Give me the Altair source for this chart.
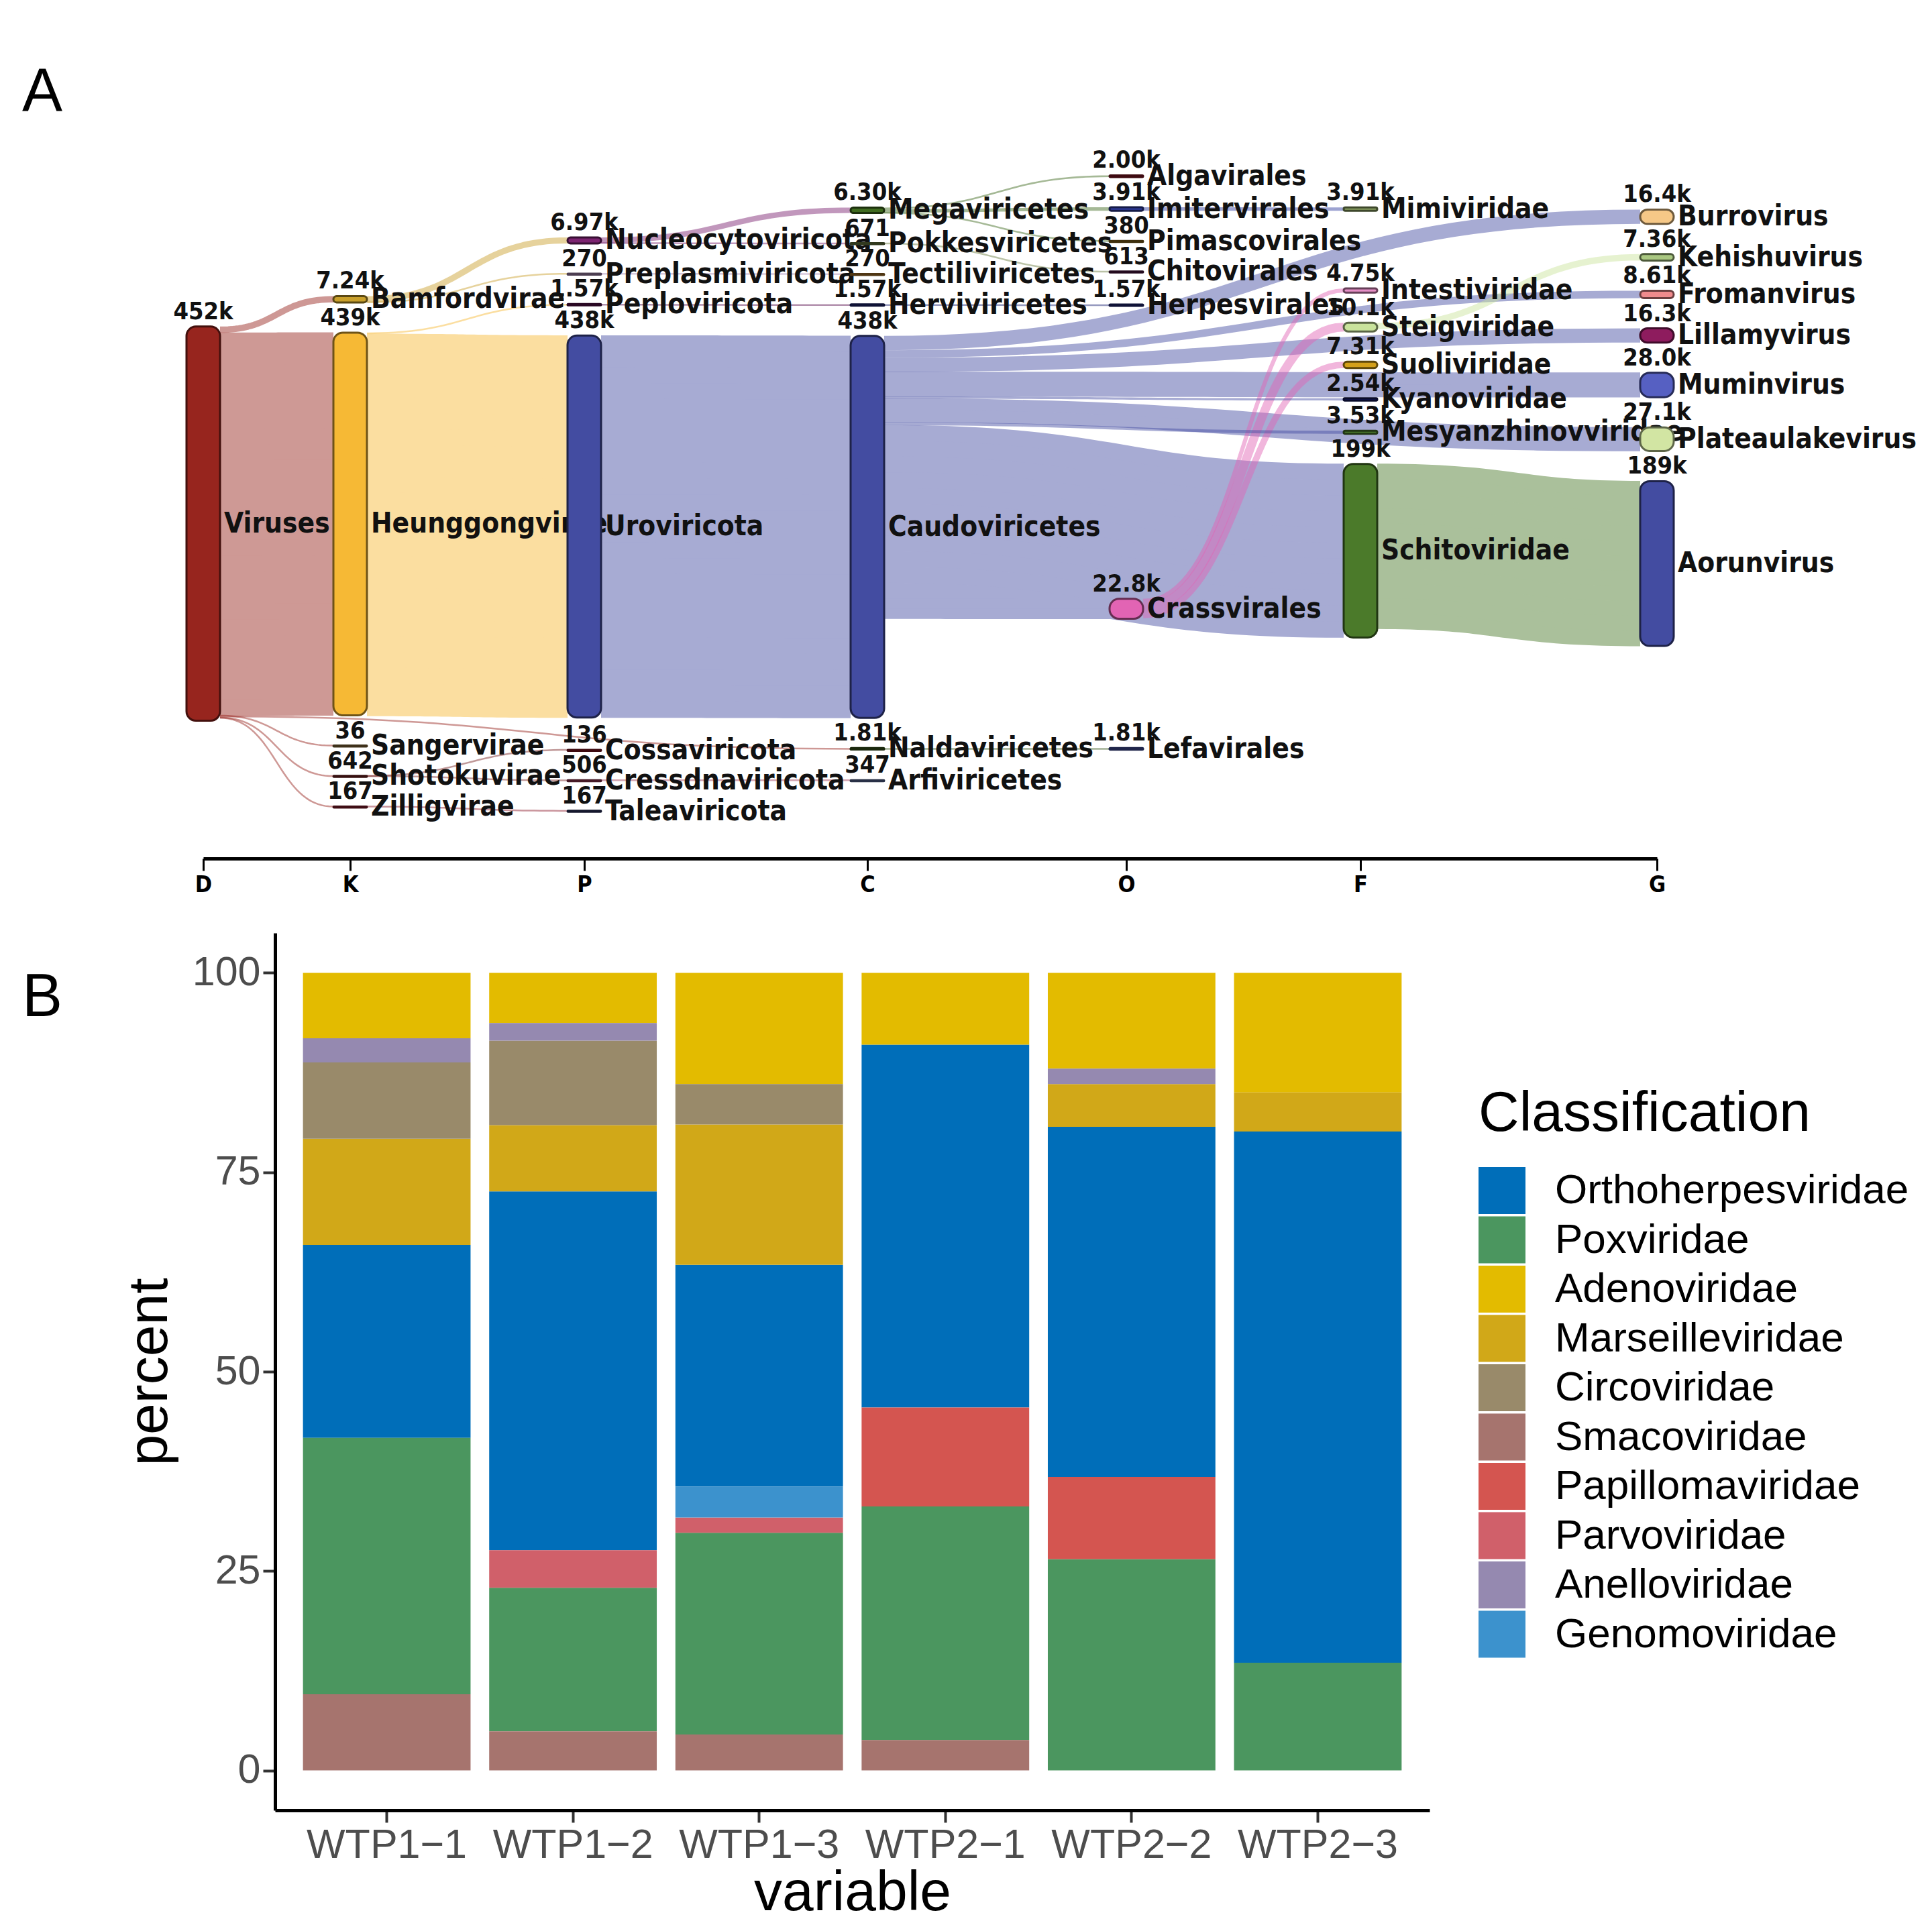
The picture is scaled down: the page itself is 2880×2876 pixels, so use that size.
import altair as alt
import numpy as np
import pandas as pd

# =====================  PANEL A DATA : taxonomic Sankey  =====================
RANKS = ["D", "K", "P", "C", "O", "F", "G"]

D_NAMES = ["Viruses"]
D_READS = [452000]
K_NAMES = ["Bamfordvirae", "Heunggongvirae", "Sangervirae", "Shotokuvirae", "Zilligvirae"]
K_READS = [7240, 439000, 36, 642, 167]
P_NAMES = ["Nucleocytoviricota", "Preplasmiviricota", "Peploviricota", "Uroviricota",
           "Cossaviricota", "Cressdnaviricota", "Taleaviricota"]
P_READS = [6970, 270, 1570, 438000, 136, 506, 167]
C_NAMES = ["Megaviricetes", "Pokkesviricetes", "Tectiliviricetes", "Herviviricetes",
           "Caudoviricetes", "Naldaviricetes", "Arfiviricetes"]
C_READS = [6300, 671, 270, 1570, 438000, 1810, 347]
O_NAMES = ["Algavirales", "Imitervirales", "Pimascovirales", "Chitovirales",
           "Herpesvirales", "Crassvirales", "Lefavirales"]
O_READS = [2000, 3910, 380, 613, 1570, 22800, 1810]
F_NAMES = ["Mimiviridae", "Intestiviridae", "Steigviridae", "Suoliviridae",
           "Kyanoviridae", "Mesyanzhinovviridae", "Schitoviridae"]
F_READS = [3910, 4750, 10100, 7310, 2540, 3530, 199000]
G_NAMES = ["Burrovirus", "Kehishuvirus", "Fromanvirus", "Lillamyvirus",
           "Muminvirus", "Plateaulakevirus", "Aorunvirus"]
G_READS = [16400, 7360, 8610, 16300, 28000, 27100, 189000]

LINK_SOURCE = ["Viruses", "Viruses", "Viruses", "Viruses", "Viruses", "Viruses",
               "Bamfordvirae", "Bamfordvirae", "Heunggongvirae", "Heunggongvirae",
               "Shotokuvirae", "Shotokuvirae", "Zilligvirae",
               "Nucleocytoviricota", "Nucleocytoviricota", "Preplasmiviricota", "Peploviricota",
               "Uroviricota", "Cressdnaviricota",
               "Megaviricetes", "Megaviricetes", "Megaviricetes", "Pokkesviricetes",
               "Herviviricetes", "Caudoviricetes", "Naldaviricetes", "Imitervirales",
               "Caudoviricetes", "Caudoviricetes", "Caudoviricetes", "Caudoviricetes",
               "Caudoviricetes", "Caudoviricetes", "Caudoviricetes", "Caudoviricetes",
               "Crassvirales", "Crassvirales", "Crassvirales", "Steigviridae", "Schitoviridae"]
LINK_TARGET = ["Bamfordvirae", "Heunggongvirae", "Naldaviricetes", "Sangervirae", "Shotokuvirae", "Zilligvirae",
               "Nucleocytoviricota", "Preplasmiviricota", "Peploviricota", "Uroviricota",
               "Cossaviricota", "Cressdnaviricota", "Taleaviricota",
               "Megaviricetes", "Pokkesviricetes", "Tectiliviricetes", "Herviviricetes",
               "Caudoviricetes", "Arfiviricetes",
               "Algavirales", "Imitervirales", "Pimascovirales", "Chitovirales",
               "Herpesvirales", "Crassvirales", "Lefavirales", "Mimiviridae",
               "Burrovirus", "Fromanvirus", "Lillamyvirus", "Muminvirus",
               "Plateaulakevirus", "Kyanoviridae", "Mesyanzhinovviridae", "Schitoviridae",
               "Intestiviridae", "Steigviridae", "Suoliviridae", "Kehishuvirus", "Aorunvirus"]
LINK_READS = [7240, 439000, 1810, 36, 642, 167,
              6970, 270, 1570, 438000,
              136, 506, 167,
              6300, 671, 270, 1570,
              438000, 347,
              2000, 3910, 380, 613,
              1570, 22800, 1810, 3910,
              16400, 8610, 16300, 28000,
              27100, 2540, 3530, 199000,
              4750, 10100, 7310, 7360, 189000]

# =====================  PANEL B DATA : stacked percentages  =====================
SAMPLES = ["WTP1\u22121", "WTP1\u22122", "WTP1\u22123", "WTP2\u22121", "WTP2\u22122", "WTP2\u22123"]
FAMILIES = ["Orthoherpesviridae", "Poxviridae", "Adenoviridae", "Marseilleviridae", "Circoviridae",
            "Smacoviridae", "Papillomaviridae", "Parvoviridae", "Anelloviridae", "Genomoviridae"]
WTP1_1 = [24.2, 32.15, 8.2, 13.3, 9.56, 9.55, 0, 0, 3.04, 0]
WTP1_2 = [45.0, 18.0, 6.3, 8.3, 10.6, 4.9, 0, 4.7, 2.2, 0]
WTP1_3 = [27.8, 25.3, 13.95, 17.6, 5.05, 4.5, 0, 1.9, 0, 3.9]
WTP2_1 = [45.5, 29.3, 9.0, 0, 0, 3.8, 12.4, 0, 0, 0]
WTP2_2 = [43.9, 26.5, 12.0, 5.35, 0, 0, 10.3, 0, 1.95, 0]
WTP2_3 = [66.6, 13.5, 15.0, 4.9, 0, 0, 0, 0, 0, 0]
STACK_ORDER = ["Smacoviridae", "Poxviridae", "Papillomaviridae", "Parvoviridae", "Genomoviridae",
               "Orthoherpesviridae", "Marseilleviridae", "Circoviridae", "Anelloviridae", "Adenoviridae"]

# =====================  STYLES  =====================
NODE_COLOR = {
    "Viruses": "#97251E", "Bamfordvirae": "#C9A02C", "Heunggongvirae": "#F6B935",
    "Sangervirae": "#8A6F3A", "Shotokuvirae": "#7A2424", "Zilligvirae": "#8E1E2E",
    "Nucleocytoviricota": "#7C2370", "Preplasmiviricota": "#A98BB5", "Peploviricota": "#5E1652",
    "Uroviricota": "#434CA1", "Cossaviricota": "#8A1724", "Cressdnaviricota": "#9E3A55",
    "Taleaviricota": "#2E3566", "Megaviricetes": "#3F6B1F", "Pokkesviricetes": "#6F7F44",
    "Tectiliviricetes": "#B07A2C", "Herviviricetes": "#232A78", "Caudoviricetes": "#434CA1",
    "Naldaviricetes": "#3A5A1E", "Arfiviricetes": "#5C6C9C", "Algavirales": "#8A1726",
    "Imitervirales": "#2F3C9E", "Pimascovirales": "#8A6A1E", "Chitovirales": "#4E1744",
    "Herpesvirales": "#222A78", "Crassvirales": "#E264B4", "Lefavirales": "#4754A6",
    "Mimiviridae": "#8BA062", "Intestiviridae": "#E58FC6", "Steigviridae": "#C9E39C",
    "Suoliviridae": "#D4A01A", "Kyanoviridae": "#141A5E", "Mesyanzhinovviridae": "#4B7A2E",
    "Schitoviridae": "#4B7A2A", "Burrovirus": "#F6C887", "Kehishuvirus": "#A9C781",
    "Fromanvirus": "#F08A8C", "Lillamyvirus": "#8E1C5E", "Muminvirus": "#5660C2",
    "Plateaulakevirus": "#D2E5A3", "Aorunvirus": "#434CA1",
}
FAM_COLORS = ["#006EB9", "#4B965F", "#E3BB00", "#D1A818", "#998A6A",
              "#A6746E", "#D45550", "#D0606A", "#9589B0", "#3C92CD"]
COND = "DejaVu Sans Condensed, DejaVu Sans, sans-serif"
SANS = "Liberation Sans, Arial, Helvetica, sans-serif"
LINK_ALPHA = 0.47

# layout constants (pixels)
COL_X = [303, 522, 871, 1293, 1679, 2028, 2470]   # centre of each rank column
PLOT_X0 = 410                                      # left edge shared by both panels
NODE_W = 50
PX_PER_READ = 1.30e-3
NODE_PAD = 45
WEIGHT_FLOOR = 2000
N_ITER = 25
Y_TOP, Y_BOTTOM = 57, 1209
PANEL_TOP, AXIS_Y = 20, 1280
PANEL_W = 1721
MAX_SUB = 24        # widest single stroke used to paint a ribbon


def darker(hexcol, k=0.45):
    r, g, b = (int(hexcol[i:i + 2], 16) for i in (1, 3, 5))
    return "#%02x%02x%02x" % (int(r * k), int(g * k), int(b * k))


def on_white(hexcol, a):
    r, g, b = (int(hexcol[i:i + 2], 16) for i in (1, 3, 5))
    return "#%02x%02x%02x" % tuple(int(round(c * a + 255 * (1 - a))) for c in (r, g, b))


def fmt_reads(c):
    if c < 1000:
        return str(int(c))
    v = c / 1000.0
    if v >= 100:
        return "%.0fk" % v
    if v >= 10:
        return "%.1fk" % v
    return "%.2fk" % v


# =====================  SANKEY LAYOUT  =====================
COLUMN_NAMES = [D_NAMES, K_NAMES, P_NAMES, C_NAMES, O_NAMES, F_NAMES, G_NAMES]
COLUMN_READS = [D_READS, K_READS, P_READS, C_READS, O_READS, F_READS, G_READS]

nodes, cols = {}, []
for ci, (names, reads) in enumerate(zip(COLUMN_NAMES, COLUMN_READS)):
    col = []
    for n, r in zip(names, reads):
        nd = {"name": n, "col": ci, "reads": r, "h": r * PX_PER_READ, "src": [], "tgt": []}
        nodes[n] = nd
        col.append(nd)
    cols.append(col)

links = []
for s, t, r in zip(LINK_SOURCE, LINK_TARGET, LINK_READS):
    L = {"s": nodes[s], "t": nodes[t], "reads": r, "w": r * PX_PER_READ}
    nodes[s]["src"].append(L)
    nodes[t]["tgt"].append(L)
    links.append(L)

for col in cols:
    y = Y_BOTTOM
    for nd in reversed(col):
        nd["y0"] = y - nd["h"]
        y = nd["y0"] - NODE_PAD


def order_links():
    for nd in nodes.values():
        nd["src"].sort(key=lambda L: L["t"]["y0"])
        off = 0.0
        for L in nd["src"]:
            L["sy"] = off
            off += L["w"]
        nd["tgt"].sort(key=lambda L: L["s"]["y0"])
        off = 0.0
        for L in nd["tgt"]:
            L["ty"] = off
            off += L["w"]


def pava(vals, wts):
    blocks = []
    for v, w in zip(vals, wts):
        blocks.append([v, w, 1])
        while len(blocks) > 1 and blocks[-2][0] > blocks[-1][0]:
            m2, w2, c2 = blocks.pop()
            m1, w1, c1 = blocks.pop()
            blocks.append([(m1 * w1 + m2 * w2) / (w1 + w2), w1 + w2, c1 + c2])
    out = []
    for m, _, c in blocks:
        out += [m] * c
    return out


def place(col, desired):
    offs, o = [], 0.0
    for nd in col:
        offs.append(o)
        o += nd["h"] + NODE_PAD
    z = pava([d - off for d, off in zip(desired, offs)], [nd["reads"] + WEIGHT_FLOOR for nd in col])
    hi = Y_BOTTOM - (offs[-1] + col[-1]["h"])
    for nd, zi, off in zip(col, z, offs):
        nd["y0"] = min(max(zi, Y_TOP), hi) + off


for it in range(N_ITER):
    for col in cols:
        order_links()
        desired = []
        for nd in col:
            if nd["tgt"]:       # follow parents: make incoming links level
                num = sum((L["s"]["y0"] + L["sy"] - L["ty"]) * L["reads"] for L in nd["tgt"])
                den = sum(L["reads"] for L in nd["tgt"])
            elif nd["src"]:     # root: follow its dominant children
                num = sum((L["t"]["y0"] + L["ty"] - L["sy"]) * L["reads"] ** 2 for L in nd["src"])
                den = sum(L["reads"] ** 2 for L in nd["src"])
            else:
                num, den = nd["y0"], 1.0
            desired.append(nd["y0"] + 0.8 * (num / den - nd["y0"]))
        place(col, desired)
order_links()

# link ribbons: cubic bezier centre line (curvature 0.5); wide ribbons are painted
# with several adjacent strokes offset along the normal
T = np.linspace(0.0, 1.0, 41)
rows = []
order_by_width = sorted(range(len(links)), key=lambda k: -links[k]["w"])
sid = 0
for k in order_by_width:
    L = links[k]
    s, t = L["s"], L["t"]
    x0 = COL_X[s["col"]] + NODE_W / 2
    x1 = COL_X[t["col"]] - NODE_W / 2
    ya = s["y0"] + L["sy"] + L["w"] / 2
    yb = t["y0"] + L["ty"] + L["w"] / 2
    span = x1 - x0
    xm = x0 + span / 2
    bx = (1 - T) ** 3 * x0 + 3 * (1 - T) ** 2 * T * xm + 3 * (1 - T) * T ** 2 * xm + T ** 3 * x1
    by = ya + (yb - ya) * (3 * T ** 2 - 2 * T ** 3)
    dxdt = 1.5 * span * ((1 - T) ** 2 + T ** 2)
    dydt = (yb - ya) * 6 * T * (1 - T)
    nrm = np.sqrt(dxdt ** 2 + dydt ** 2)
    nx, ny = -dydt / nrm, dxdt / nrm
    wdraw = max(L["w"], 2.5)
    nsub = int(np.ceil(wdraw / MAX_SUB))
    sub = wdraw / nsub
    base = NODE_COLOR[s["name"]]
    colr = on_white(base, LINK_ALPHA) if nsub > 1 else base
    op = 1.0 if nsub > 1 else LINK_ALPHA
    for j in range(nsub):
        d = -wdraw / 2 + (j + 0.5) * sub
        for i in range(len(T)):
            rows.append({"sid": sid, "i": i, "x": bx[i] + d * nx[i], "y": by[i] + d * ny[i],
                         "sw": sub + (0.9 if nsub > 1 else 0.0), "col": colr, "op": op})
        sid += 1
link_df = pd.DataFrame(rows)

nrows = []
for nd in nodes.values():
    cx = COL_X[nd["col"]]
    h = max(nd["h"], 1.5)
    nrows.append({"name": nd["name"], "x0": cx - NODE_W / 2, "x1": cx + NODE_W / 2,
                  "y0": nd["y0"], "y1": nd["y0"] + h, "cx": cx, "lx": cx + NODE_W / 2 + 6,
                  "yc": nd["y0"] + h / 2, "vy": nd["y0"] - 3, "val": fmt_reads(nd["reads"]),
                  "fill": NODE_COLOR[nd["name"]], "stroke": darker(NODE_COLOR[nd["name"]])})
node_df = pd.DataFrame(nrows)

XS = alt.Scale(domain=[COL_X[0], COL_X[-1]],
               range=[COL_X[0] - PLOT_X0, COL_X[-1] - PLOT_X0], nice=False, zero=False)
YS = alt.Scale(domain=[PANEL_TOP, AXIS_Y], reverse=True, nice=False, zero=False)
label_expr = " : ".join("datum.value == %d ? '%s'" % (x, r) for x, r in zip(COL_X, RANKS)) + " : ''"
AXA = alt.Axis(values=COL_X, labelExpr=label_expr, title=None, grid=False, domainColor="black",
               domainWidth=5, tickColor="black", tickWidth=3, tickSize=18, labelFont=COND,
               labelFontWeight="bold", labelFontSize=34, labelColor="black", labelPadding=4,
               labelFlush=False, labelOverlap=False)

link_layer = alt.Chart(link_df).mark_line(strokeCap="butt", strokeJoin="round").encode(
    x=alt.X("x:Q", scale=XS, axis=AXA),
    y=alt.Y("y:Q", scale=YS, axis=None),
    detail="sid:N",
    order="i:Q",
    strokeWidth=alt.StrokeWidth("sw:Q", scale=None),
    strokeOpacity=alt.StrokeOpacity("op:Q", scale=None),
    color=alt.Color("col:N", scale=None),
)
val_layer = alt.Chart(node_df).mark_text(align="center", baseline="bottom", font=COND,
                                         fontWeight="bold", fontSize=36, color="#111111").encode(
    x=alt.X("cx:Q", scale=XS, axis=AXA), y=alt.Y("vy:Q", scale=YS, axis=None), text="val:N")
name_layer = alt.Chart(node_df).mark_text(align="left", baseline="middle", font=COND,
                                          fontWeight="bold", fontSize=42, color="#111111").encode(
    x=alt.X("lx:Q", scale=XS, axis=AXA), y=alt.Y("yc:Q", scale=YS, axis=None), text="name:N")
node_layer = alt.Chart(node_df).mark_rect(cornerRadius=14, strokeWidth=3).encode(
    x=alt.X("x0:Q", scale=XS, axis=AXA), x2="x1:Q",
    y=alt.Y("y0:Q", scale=YS, axis=None), y2="y1:Q",
    fill=alt.Fill("fill:N", scale=None), stroke=alt.Stroke("stroke:N", scale=None))
a_label = alt.Chart(pd.DataFrame({"t": ["A"]})).mark_text(
    align="left", baseline="middle", font=SANS, fontSize=90, color="black").encode(
    text="t:N", x=alt.value(33 - PLOT_X0), y=alt.value(138 - PANEL_TOP))

panel_a = alt.layer(link_layer, val_layer, name_layer, node_layer, a_label).properties(
    width=PANEL_W, height=AXIS_Y - PANEL_TOP)

# =====================  PANEL B  =====================
brow = []
for smp, vals in zip(SAMPLES, [WTP1_1, WTP1_2, WTP1_3, WTP2_1, WTP2_2, WTP2_3]):
    for fam, v in zip(FAMILIES, vals):
        if v > 0:
            brow.append({"variable": smp, "Classification": fam, "percent": v,
                         "stack": STACK_ORDER.index(fam)})
bar_df = pd.DataFrame(brow)

B_TOP = 1387
bars = alt.Chart(bar_df).mark_bar(strokeWidth=0).encode(
    x=alt.X("variable:N", sort=SAMPLES,
            scale=alt.Scale(paddingInner=0.1, paddingOuter=0.15),
            axis=alt.Axis(title="variable", labelAngle=0, labelFont=SANS, labelFontSize=61,
                          labelColor="#4D4D4D", labelLimit=1000, labelPadding=4, tickSize=18,
                          tickWidth=4, tickColor="#333333", domainColor="black", domainWidth=5,
                          titleFont=SANS, titleFontSize=84, titleFontWeight="normal",
                          titleColor="black", titlePadding=0, grid=False)),
    y=alt.Y("percent:Q", stack="zero",
            scale=alt.Scale(domain=[-5, 105], nice=False, zero=False),
            axis=alt.Axis(title="percent", values=[0, 25, 50, 75, 100], labelFont=SANS,
                          labelFontSize=61, labelColor="#4D4D4D", labelPadding=4, tickSize=18,
                          tickWidth=4, tickColor="#333333", domainColor="black", domainWidth=5,
                          titleFont=SANS, titleFontSize=84, titleFontWeight="normal",
                          titleColor="black", titlePadding=20, grid=False)),
    color=alt.Color("Classification:N", scale=alt.Scale(domain=FAMILIES, range=FAM_COLORS),
                    legend=alt.Legend(orient="none", legendX=2204 - PLOT_X0, legendY=1616 - B_TOP,
                                      padding=0, title="Classification", titleFont=SANS,
                                      titleFontSize=84, titleFontWeight="normal",
                                      titleColor="black", titleLimit=1000, titlePadding=36,
                                      labelFont=SANS, labelFontSize=62, labelColor="black",
                                      labelLimit=1000, labelOffset=44, symbolType="square",
                                      symbolSize=4900, symbolStrokeWidth=0, symbolOpacity=1,
                                      rowPadding=3.5)),
    order=alt.Order("stack:Q", sort="ascending"),
)
b_label = alt.Chart(pd.DataFrame({"t": ["B"]})).mark_text(
    align="left", baseline="middle", font=SANS, fontSize=90, color="black").encode(
    text="t:N", x=alt.value(33 - PLOT_X0), y=alt.value(1484 - B_TOP))

panel_b = alt.layer(bars, b_label).properties(width=PANEL_W, height=2695 - B_TOP)

chart = alt.vconcat(panel_a, panel_b, spacing=55).resolve_scale(
    color="independent").properties(
    padding={"left": 25, "top": 12, "right": 5, "bottom": 5},
    background="white",
).configure_view(stroke=None)

chart.save("out.html", embed_options={"renderer": "svg", "actions": False})
